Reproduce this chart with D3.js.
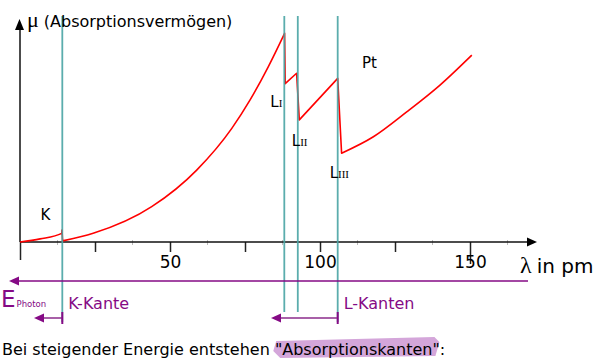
<!DOCTYPE html>
<html>
<head>
<meta charset="utf-8">
<script src="https://cdn.jsdelivr.net/npm/d3@7"></script>
<style>
  html, body { margin: 0; padding: 0; background: #fff; }
  svg { display: block; }
  text { font-family: "DejaVu Sans", sans-serif; }
</style>
</head>
<body>
<svg id="chart" width="593" height="362"></svg>
<script>
// ---- data ----
const lambdaPm = [0, 6.7, 13.9, 14.0, 14.2, 24.4, 43.9, 58.9, 70.6, 76.7, 82.7, 88.2, 88.4, 92.2, 93.1, 105.9, 107.2, 117.8, 128.9, 140.0, 150.6];
const muValues = [0, 1.4, 3.9, 5.4, 0.5, 3.9, 15.9, 32.4, 51.2, 64.0, 78.8, 94.0, 71.3, 76.0, 55.0, 73.7, 40.0, 47.4, 58.6, 70.7, 84.2];
const xTickValues = [0, 25, 50, 75, 100, 125, 150];
const xTickLabels = ["", "", "50", "", "100", "", "150"];
const xMinorTicks = [12.5, 37.5, 62.5, 87.5, 112.5, 137.5, 162.5];
const edgeLambda = [14.1, 88.1, 92.6, 105.9];
const edgeNames = ["K", "L", "L", "L"];
const edgeSub = ["", "I", "II", "III"];
const edgeMuAfter = [5.4, 71.3, 55.0, 40.0];
const groupLabels = ["K-Kante", "L-Kanten"];

// ---- layout ----
const svg = d3.select("#chart");
const x = d3.scaleLinear().domain([0, 150]).range([20, 470]);
const y = d3.scaleLinear().domain([0, 100]).range([242, 20]);
const teal = "#4aa5a5", purple = "#850a85", purpleLight = "#a860a8";

// highlight brush (placed later after measuring)
const hl = svg.append("g");

// minor ticks (faint)
svg.append("g").selectAll("line").data(xMinorTicks).join("line")
  .attr("x1", d => x(d)).attr("x2", d => x(d))
  .attr("y1", 240).attr("y2", 245)
  .attr("stroke", "#bbb").attr("stroke-width", 1);

// x axis
const xAxis = d3.axisBottom(x).tickValues(xTickValues)
  .tickFormat((d, i) => xTickLabels[i]).tickSize(10).tickPadding(4);
const gx = svg.append("g").attr("transform", `translate(0,${y(0)})`).call(xAxis);
gx.select(".domain").remove();
gx.selectAll(".tick line").attr("stroke", "#222").attr("stroke-width", 1.5)
  .attr("y2", d => d === 0 ? 18 : (d === 150 ? 22 : 10));
gx.selectAll(".tick text").attr("font-family", "Liberation Sans, Arial, sans-serif")
  .attr("font-size", 17).attr("fill", "#000");

// axis lines
svg.append("line").attr("x1", x(0)).attr("x2", 530).attr("y1", y(0)).attr("y2", y(0))
  .attr("stroke", "#111").attr("stroke-width", 1.5);
svg.append("path").attr("d", `M537,${y(0)} L527,${y(0) - 4.5} L527,${y(0) + 4.5} Z`).attr("fill", "#000");
svg.append("line").attr("x1", x(0)).attr("x2", x(0)).attr("y1", y(0)).attr("y2", 27)
  .attr("stroke", "#111").attr("stroke-width", 1.5);
svg.append("path").attr("d", `M${x(0) - 0.5},19 L${x(0) - 5},30 L${x(0) + 4},30 Z`).attr("fill", "#000");

// curve: smooth segments between absorption edges, straight drops at the edges
const pts = lambdaPm.map((l, i) => [l, muValues[i]]);
const segments = [];
let cur = [pts[0]];
for (let i = 1; i < pts.length; i++) {
  if (pts[i][1] < pts[i - 1][1]) { segments.push(cur); cur = []; }
  cur.push(pts[i]);
}
segments.push(cur);
const seg = d3.line().x(d => x(d[0])).y(d => y(d[1])).curve(d3.curveMonotoneX);
const dStr = segments.map((s, i) => {
  const d = seg(s);
  return i === 0 ? d : "L" + d.slice(1);
}).join("");
svg.append("path").attr("d", dStr)
  .attr("fill", "none").attr("stroke", "#f00").attr("stroke-width", 1.6)
  .attr("stroke-linejoin", "round");

// edge lines
const edgeBottom = [322, 312, 312, 322];
svg.append("g").selectAll("line").data(edgeLambda).join("line")
  .attr("x1", d => x(d)).attr("x2", d => x(d))
  .attr("y1", 16).attr("y2", (d, i) => edgeBottom[i])
  .attr("stroke", teal).attr("stroke-width", 1.8).attr("opacity", 0.9);

// edge labels
const lblOffX = [-12, -14, -6, -8];
const lblOffY = [-10, 23, 26, 25];
edgeLambda.forEach((e, i) => {
  const t = svg.append("text")
    .attr("x", x(e) + lblOffX[i]).attr("y", y(edgeMuAfter[i]) + lblOffY[i])
    .attr("text-anchor", i === 0 ? "end" : "start")
    .attr("font-size", 15).attr("fill", "#000");
  t.append("tspan").text(edgeNames[i]);
  if (edgeSub[i]) t.append("tspan").attr("font-size", 11).attr("font-family", "Liberation Serif, serif").text(edgeSub[i]);
});

// element label
svg.append("text").attr("x", x(114)).attr("y", y(78.5))
  .attr("font-size", 15).attr("fill", "#000").text("Pt");

// y label
const yl = svg.append("text").attr("x", 27).attr("y", 27).attr("font-size", 16).attr("fill", "#000");
yl.append("tspan").attr("font-family", "Liberation Serif, serif").attr("font-size", 22).text("μ");
yl.append("tspan").attr("dx", 5).text("(Absorptionsvermögen)");

// x label
const xl = svg.append("text").attr("x", 520).attr("y", 273).attr("font-size", 20).attr("fill", "#000");
xl.append("tspan").attr("font-family", "Liberation Serif, serif").attr("font-size", 24).text("λ");
xl.append("tspan").attr("dx", 5).text("in pm");

// energy arrow
svg.append("line").attr("x1", 17).attr("x2", 528).attr("y1", 281).attr("y2", 281)
  .attr("stroke", purple).attr("stroke-width", 1.5);
svg.append("path").attr("d", "M9,281 L19,276.5 L19,285.5 Z").attr("fill", purple);
const ep = svg.append("text").attr("x", 1).attr("y", 307).attr("fill", purple);
ep.append("tspan").attr("font-size", 23).text("E");
ep.append("tspan").attr("font-size", 8.5).attr("dx", 1).text("Photon");

// brackets
const bracket = (xr, xl2) => {
  svg.append("line").attr("x1", xl2 + 8).attr("x2", xr).attr("y1", 318).attr("y2", 318)
    .attr("stroke", purpleLight).attr("stroke-width", 2);
  svg.append("path").attr("d", `M${xl2},318 L${xl2 + 10},313.5 L${xl2 + 10},322.5 Z`).attr("fill", purple);
  svg.append("line").attr("x1", xr).attr("x2", xr).attr("y1", 312).attr("y2", 324)
    .attr("stroke", purple).attr("stroke-width", 2);
};
bracket(x(edgeLambda[0]), 34);
bracket(x(edgeLambda[3]), 271);
svg.append("text").attr("x", x(edgeLambda[0]) + 6).attr("y", 309).attr("font-size", 16)
  .attr("fill", purple).text(groupLabels[0]);
svg.append("text").attr("x", x(edgeLambda[3]) + 6).attr("y", 309).attr("font-size", 16)
  .attr("fill", purple).text(groupLabels[1]);

// bottom sentence
const parts = ["Bei steigender Energie entstehen \"", "Absorptionskanten", "\":"];
let cx = 2;
const pos = [];
parts.forEach(p => {
  const t = svg.append("text").attr("x", cx).attr("y", 355).attr("font-size", 16)
    .attr("fill", "#000").text(p);
  const w = t.node().getComputedTextLength();
  pos.push([cx, cx + w]);
  cx += w;
});
const [h0, h1] = [pos[1][0] - 8, pos[1][1] + 6];
hl.append("path")
  .attr("d", `M${h0 + 2},341 L${h1 - 4},337 L${h1 + 1},342 L${h1 - 3},356 L${h0 + 6},358 L${h0 - 1},351 Z`)
  .attr("fill", "#d4a6da");
</script>
</body>
</html>
